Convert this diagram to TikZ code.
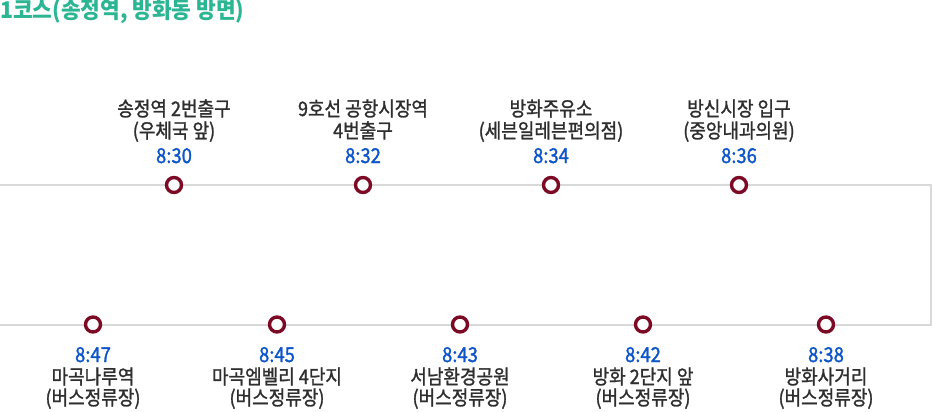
\documentclass[tikz,border=0pt]{standalone}
\usepackage{fontspec}
\setmainfont{Noto Sans CJK KR}[FakeStretch=0.9]
\newfontfamily\lblfont{Noto Sans CJK KR}[FakeStretch=0.9, FakeBold=1.3]
\newfontfamily\ttlfont{Noto Sans CJK KR}[FakeStretch=0.93]
\definecolor{stopred}{HTML}{7D0A24}
\definecolor{trackgray}{HTML}{D9D9D9}
\definecolor{txtgray}{HTML}{2E2E2E}
\definecolor{timeblue}{HTML}{0D55C8}
\definecolor{titlegreen}{HTML}{2BB592}
\begin{document}
\begin{tikzpicture}[x=1pt,y=-1pt,
  track/.style={draw=trackgray, line width=2pt},
  stop/.style={circle, draw=stopred, line width=3.4pt, fill=white, minimum size=15pt, inner sep=0pt},
  lbl/.style={anchor=base, inner sep=0pt, text=txtgray, font=\lblfont\fontsize{20}{22}\selectfont},
  tm/.style={lbl, text=timeblue, font=\lblfont\fontsize{20.5}{22}\selectfont},
  ttl/.style={anchor=base west, inner sep=0pt, text=titlegreen, font=\ttlfont\fontsize{23}{24}\selectfont\bfseries}]
\useasboundingbox (0,0) rectangle (932,412);
\node[ttl] (title) at (0,19) {1코스(송정역, 방화동 방면)};
% track
\coordinate (tl) at (0,185);
\coordinate (tr) at (931,185);
\coordinate (br) at (931,324.5);
\coordinate (bl) at (0,324.5);
\draw[track] (tl) -- (tr) -- (br) -- (bl);
% top stops
\node[stop] (s1) at (174,185) {};
\node[stop] (s2) at (363,185) {};
\node[stop] (s3) at (551,185) {};
\node[stop] (s4) at (739,185) {};
\node[lbl] (s1a) at (174,116) {송정역 2번출구};
\node[lbl] (s1b) at (174,138) {(우체국 앞)};
\node[tm]  (s1t) at (174,163) {8:30};
\node[lbl] (s2a) at (363,116) {9호선 공항시장역};
\node[lbl] (s2b) at (363,138) {4번출구};
\node[tm]  (s2t) at (363,163) {8:32};
\node[lbl] (s3a) at (551,116) {방화주유소};
\node[lbl] (s3b) at (551,138) {(세븐일레븐편의점)};
\node[tm]  (s3t) at (551,163) {8:34};
\node[lbl] (s4a) at (739,116) {방신시장 입구};
\node[lbl] (s4b) at (739,138) {(중앙내과의원)};
\node[tm]  (s4t) at (739,163) {8:36};
% bottom stops
\node[stop] (s5) at (826,324.5) {};
\node[stop] (s6) at (643,324.5) {};
\node[stop] (s7) at (460,324.5) {};
\node[stop] (s8) at (277,324.5) {};
\node[stop] (s9) at (93,324.5) {};
\node[tm]  (s5t) at (826,362) {8:38};
\node[lbl] (s5a) at (826,384) {방화사거리};
\node[lbl] (s5b) at (826,405) {(버스정류장)};
\node[tm]  (s6t) at (643,362) {8:42};
\node[lbl] (s6a) at (643,384) {방화 2단지 앞};
\node[lbl] (s6b) at (643,405) {(버스정류장)};
\node[tm]  (s7t) at (460,362) {8:43};
\node[lbl] (s7a) at (460,384) {서남환경공원};
\node[lbl] (s7b) at (460,405) {(버스정류장)};
\node[tm]  (s8t) at (277,362) {8:45};
\node[lbl] (s8a) at (277,384) {마곡엠벨리 4단지};
\node[lbl] (s8b) at (277,405) {(버스정류장)};
\node[tm]  (s9t) at (93,362) {8:47};
\node[lbl] (s9a) at (93,384) {마곡나루역};
\node[lbl] (s9b) at (93,405) {(버스정류장)};
\end{tikzpicture}
\end{document}
